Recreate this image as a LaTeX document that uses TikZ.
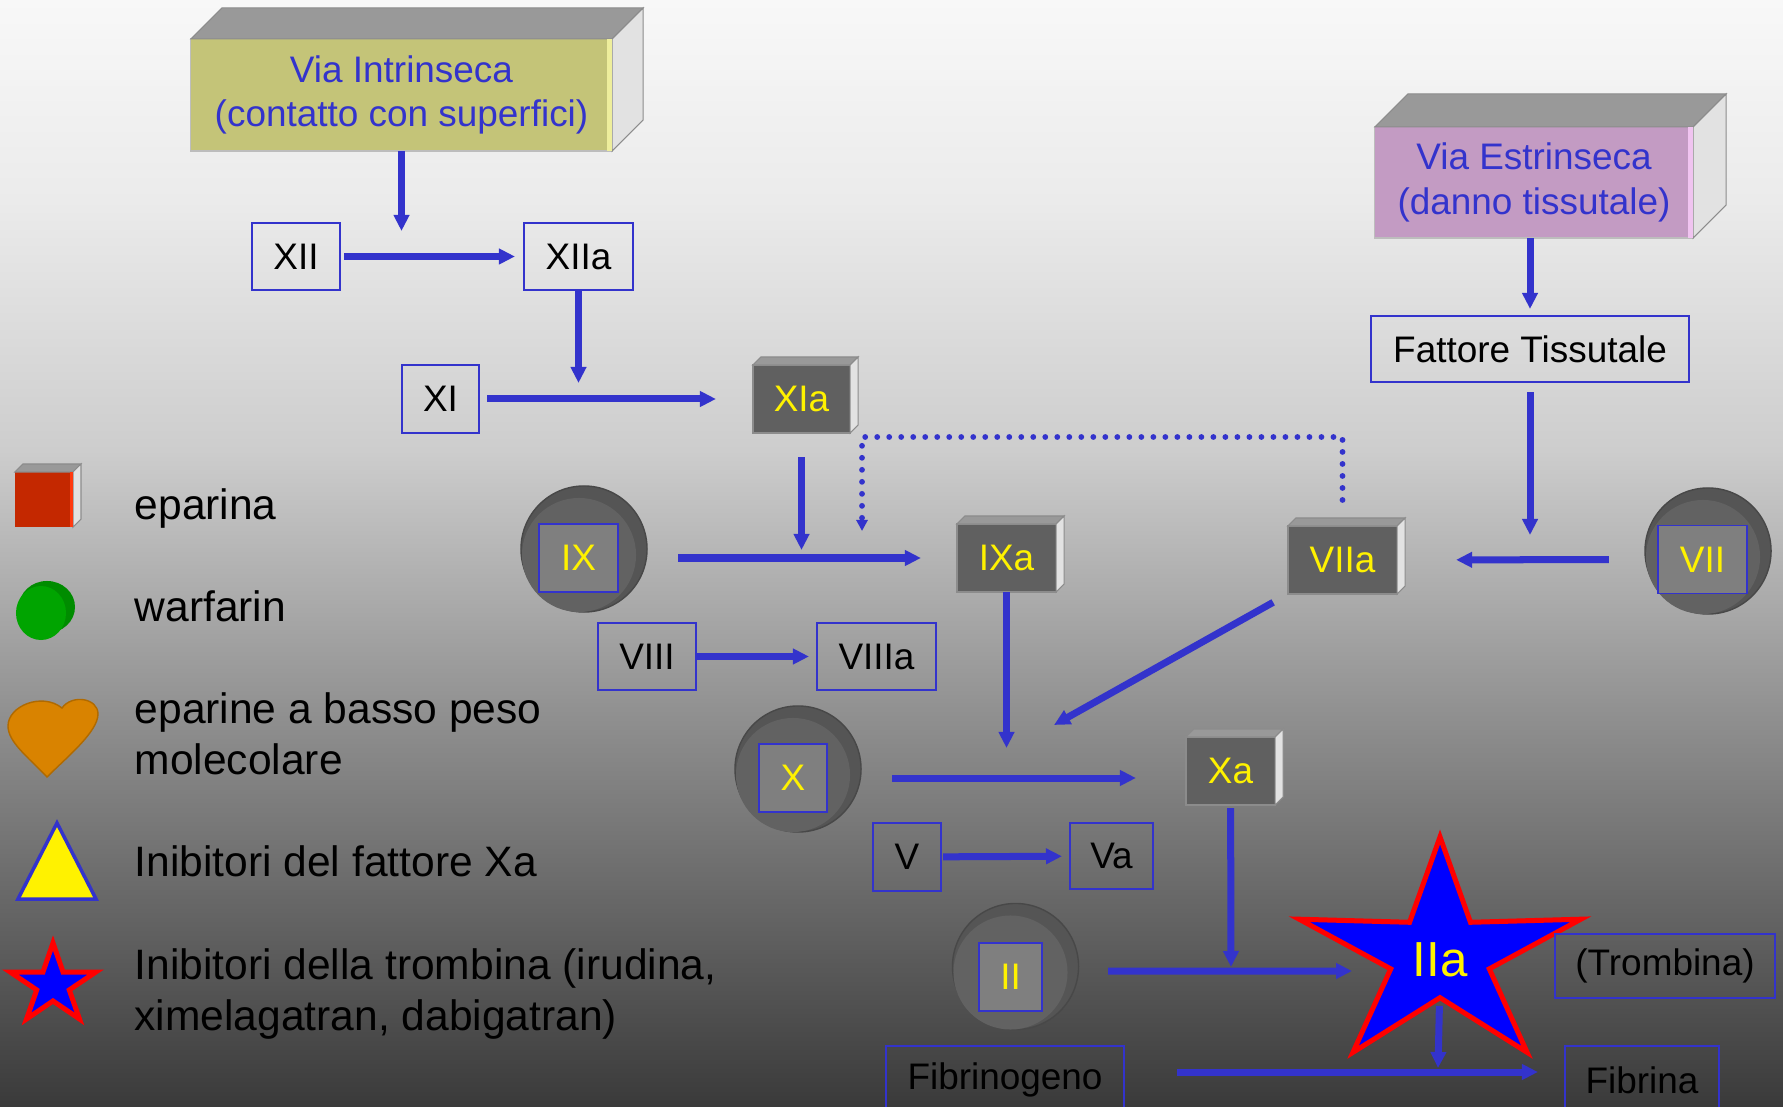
\documentclass[tikz,border=0pt]{standalone}
\usepackage{fontspec}
\setmainfont{Liberation Sans}
\usetikzlibrary{arrows.meta,positioning}

\definecolor{pathblue}{HTML}{3333CC}
\definecolor{intryellow}{HTML}{C4C478}
\definecolor{intrstrip}{HTML}{EEEE9C}
\definecolor{extrmauve}{HTML}{C39BC3}
\definecolor{extrstrip}{HTML}{F0C4F0}
\definecolor{topgray}{HTML}{999999}
\definecolor{sidegray}{HTML}{E2E2E2}
\definecolor{edgegray}{HTML}{8C8C8C}
\definecolor{edgelight}{HTML}{BDBDBD}
\definecolor{enzgray}{HTML}{606060}
\definecolor{discgray}{HTML}{555555}
\definecolor{discface}{HTML}{626262}
\definecolor{squaregray}{HTML}{7F7F7F}
\definecolor{hepred}{HTML}{C42800}
\definecolor{hepstrip}{HTML}{FF3A10}
\definecolor{warfback}{HTML}{008C00}
\definecolor{warffront}{HTML}{00A400}
\definecolor{lmwhorange}{HTML}{D98300}
\definecolor{lmwhedge}{HTML}{B06A00}
\definecolor{bgA}{HTML}{F8F8F8}
\definecolor{bgB}{HTML}{EBEBEB}
\definecolor{bgC}{HTML}{CDCDCD}
\definecolor{bgD}{HTML}{939393}
\definecolor{bgE}{HTML}{3A3A3A}

\newcommand{\factorfont}{\fontsize{10.5}{12.6}\selectfont}
\newcommand{\legendfont}{\fontsize{12.1}{14.5}\selectfont}
\newcommand{\thrombinfont}{\fontsize{14}{16}\selectfont}

% top and side faces of a box node: node, depth, top colour, side colour
\newcommand{\boxtop}[4]{%
  \filldraw[fill=#3,draw=edgegray,line width=0.3pt] (#1.north west) -- ++(#2,-#2)
    -- ([shift={(#2,-#2)}]#1.north east) -- (#1.north east) -- cycle;
  \filldraw[fill=#4,draw=edgegray,line width=0.3pt] (#1.north east)
    -- ([shift={(#2,-#2)}]#1.north east) -- ([shift={(#2,-#2)}]#1.south east)
    -- (#1.south east) -- cycle;}

\begin{document}
\begin{tikzpicture}[x=0.01cm, y=-0.01cm,
  font=\factorfont,
  factor/.style={draw=pathblue, line width=0.5pt, minimum height=0.67cm,
                 inner sep=0pt, outer sep=0pt},
  enzyme/.style={fill=enzgray, draw=edgegray, line width=0.3pt, minimum height=0.68cm,
                 inner sep=0pt, outer sep=0pt, text=yellow},
  disc/.style={circle, fill=discgray, draw=discgray!85!black, line width=0.4pt,
               minimum size=1.26cm, inner sep=0pt},
  zymogen/.style={factor, fill=squaregray, minimum height=0.68cm, text=yellow},
  pathway/.style={minimum height=1.12cm, inner sep=0pt, outer sep=0pt, text=pathblue,
                  align=center, draw=edgelight, line width=0.3pt},
  arr/.style={-{Triangle[length=0.16cm,width=0.15cm]}, line width=0.07cm, draw=pathblue},
  dotarr/.style={-{Triangle[length=0.11cm,width=0.11cm]}, line width=0.058cm, draw=pathblue,
                 dash pattern=on 0pt off 0.12cm, line cap=round},
  thrombin/.style={fill=blue, draw=red, line width=0.05cm, line join=miter},
  legend/.style={font=\legendfont, anchor=base west, align=left, inner sep=0pt},
]

%% ---- Background -------------------------------------------------------------
\useasboundingbox (0,0) rectangle (1783,1107);
\clip (0,0) rectangle (1783,1107);
\shade[top color=bgA, bottom color=bgB] (0,0) rectangle (1783,201);
\shade[top color=bgB, bottom color=bgC] (0,200) rectangle (1783,451);
\shade[top color=bgC, bottom color=bgD] (0,450) rectangle (1783,701);
\shade[top color=bgD, bottom color=bgE] (0,700) rectangle (1783,1107);

%% ---- Intrinsic pathway -------------------------------------------------------
\node[pathway, fill=intryellow, minimum width=4.21cm] (viaint) at (401.5,95)
  {Via Intrinseca\\(contatto con superfici)};
\boxtop{viaint}{31}{topgray}{sidegray}
\fill[intrstrip] ([xshift=-0.05cm]viaint.north east) rectangle (viaint.south east);

\node[factor, minimum width=0.88cm] (XII) at (296,256.5) {XII};
\node[factor, minimum width=1.09cm] (XIIa) at (578.5,256.5) {XIIa};
\node[factor, minimum width=0.77cm, minimum height=0.68cm] (XI) at (440.5,399) {XI};

\node[enzyme, minimum width=0.97cm] (XIa) at (801.5,399) {XIa};
\boxtop{XIa}{8}{topgray}{sidegray}

%% ---- Factor IX ----------------------------------------------------------------
\node[disc] (IXdisc) at (584,549) {};
\fill[discface] ([shift={(-5,6)}]IXdisc.center) circle (0.57cm);
\node[zymogen, minimum width=0.79cm] (IX) at (578.5,558) {IX};

\node[enzyme, minimum width=0.99cm] (IXa) at (1006.5,558) {IXa};
\boxtop{IXa}{8}{topgray}{sidegray}

\node[factor, minimum width=0.98cm] (VIII) at (647,656.5) {VIII};
\node[factor, minimum width=1.19cm] (VIIIa) at (876.5,656.5) {VIIIa};

%% ---- Extrinsic pathway --------------------------------------------------------
\node[pathway, fill=extrmauve, minimum width=3.18cm, minimum height=1.11cm] (viaest) at (1534,182.5)
  {Via Estrinseca\\(danno tissutale)};
\boxtop{viaest}{33}{topgray}{sidegray}
\fill[extrstrip] ([xshift=-0.05cm]viaest.north east) rectangle (viaest.south east);

\node[factor, minimum width=3.18cm, minimum height=0.66cm] (FT) at (1530,349) {Fattore Tissutale};

\node[enzyme, minimum width=1.09cm] (VIIa) at (1342.5,560) {VIIa};
\boxtop{VIIa}{8}{topgray}{sidegray}

\node[disc] (VIIdisc) at (1708,551) {};
\fill[discface] ([shift={(-5,6)}]VIIdisc.center) circle (0.57cm);
\node[zymogen, minimum width=0.89cm] (VII) at (1702.5,559.5) {VII};

%% ---- Common pathway -----------------------------------------------------------
\node[disc] (Xdisc) at (798,769) {};
\fill[discface] ([shift={(-5,6)}]Xdisc.center) circle (0.57cm);
\node[zymogen, minimum width=0.68cm] (X) at (793,778) {X};

\node[enzyme, minimum width=0.89cm] (Xa) at (1230.5,771) {Xa};
\boxtop{Xa}{8}{topgray}{sidegray}

\node[factor, minimum width=0.68cm, minimum height=0.68cm] (V) at (907,857) {V};
\node[factor, minimum width=0.83cm, minimum height=0.66cm] (Va) at (1111.5,856) {Va};

\node[disc] (IIdisc) at (1015.5,966.5) {};
\fill[discface] ([shift={(-5,6)}]IIdisc.center) circle (0.57cm);
\node[zymogen, minimum width=0.63cm] (II) at (1010.5,977) {II};

%% ---- Thrombin star
\begin{scope}[shift={(1440,956)}, x=1.48cm, y=1.19cm]
  \draw[thrombin] (90:1) -- (54:.35) -- (18:1) -- (-18:.35) -- (-54:1) -- (-90:.35)
    -- (-126:1) -- (-162:.35) -- (162:1) -- (126:.35) -- cycle;
\end{scope}
\node[font=\thrombinfont, text=yellow, inner sep=0pt] (IIa) at (1440,960) {IIa};

\node[factor, minimum width=2.2cm, minimum height=0.64cm] (trombina) at (1665,966) {(Trombina)};
\node[factor, minimum width=2.38cm, minimum height=0.68cm] (fibrinogeno) at (1005,1080) {Fibrinogeno};
\node[factor, minimum width=1.54cm, minimum height=0.68cm] (fibrina) at (1642,1080) {Fibrina};

%% ---- Arrows --------------------------------------------------------------------
\coordinate (jXII) at (401.5,231);
\coordinate (jXI) at (578.5,383);
\coordinate (jIX) at (801.5,550);
\coordinate (dotBend) at (862,437);
\coordinate (jIXdot) at (862,531);
\coordinate (jX) at (1006.5,748);
\coordinate (jXdiag) at (1054,725);
\coordinate (jVII) at (1530,535);
\coordinate (jII) at (1231,967);
\coordinate (jIIa) at (1352,971);
\coordinate (jFib) at (1438,1068);

\draw[arr] (viaint.south) -- (jXII);
\draw[arr, shorten <=0.04cm, shorten >=0.09cm] (XII) -- (XIIa);
\draw[arr] (XIIa) -- (jXI);
\draw[arr, shorten <=0.08cm, shorten >=0.37cm] (XI) -- (XIa);
\draw[arr, shorten <=0.24cm] (XIa) -- (jIX);
\draw[dotarr, shorten <=0.26cm] (VIIa.north) |- (dotBend) -- (jIXdot);

\draw[arr, shorten <=0.6cm, shorten >=0.36cm] (IX) -- (IXa);
\draw[arr, shorten <=0.01cm, shorten >=0.08cm] (VIII) -- (VIIIa);
\draw[arr] (IXa) -- (jX);

\draw[arr, shorten >=0.07cm] (viaest.south -| FT.north) -- (FT);
\draw[arr, shorten <=0.1cm] (FT) -- (jVII);
\draw[arr, shorten <=0.49cm, shorten >=0.59cm] (VII) -- (VIIa);
\draw[arr, shorten <=0.17cm] (VIIa.south west) -- (jXdiag);

\draw[arr, shorten <=0.65cm, shorten >=0.5cm] (X.east) -- (X.east -| Xa.west);
\draw[arr, shorten <=0.02cm, shorten >=0.08cm] (V) -- (Va);
\draw[arr, shorten <=0.03cm] (Xa) -- (jII);
\draw[arr, shorten <=0.66cm] ([yshift=0.06cm]II.east) -- (jIIa);
\draw[arr, shorten <=0.28cm] (IIa.south) -- (jFib);
\draw[arr, shorten <=0.53cm, shorten >=0.27cm] ([yshift=0.08cm]fibrinogeno.east)
  -- ([yshift=0.08cm]fibrinogeno.east -| fibrina.west);

%% ---- Legend ---------------------------------------------------------------------
\node[fill=hepred, minimum width=0.58cm, minimum height=0.55cm, inner sep=0pt, outer sep=0pt]
  (legHep) at (44,499.5) {};
\boxtop{legHep}{8}{topgray}{sidegray}
\fill[hepstrip] ([xshift=-0.03cm]legHep.north east) rectangle (legHep.south east);

\fill[warfback] (47,607) ellipse [x radius=0.28cm, y radius=0.26cm];
\fill[warffront] (41,613) ellipse [x radius=0.25cm, y radius=0.27cm];

\filldraw[fill=lmwhorange, draw=lmwhedge, line width=0.4pt]
  (47,777) .. controls (28,757) and (8,742) .. (8,726)
  .. controls (8,706) and (42,692) .. (62,708)
  .. controls (72,694) and (98,698) .. (98,714)
  .. controls (98,732) and (66,758) .. (47,777) -- cycle;

\filldraw[fill=yellow, draw=pathblue, line width=0.035cm] (57,823) -- (96,899) -- (18,899) -- cycle;

\begin{scope}[shift={(53,985)}, x=0.45cm, y=0.42cm]
  \draw[thrombin] (90:1) -- (54:.38) -- (18:1) -- (-18:.38) -- (-54:1) -- (-90:.38)
    -- (-126:1) -- (-162:.38) -- (162:1) -- (126:.38) -- cycle;
\end{scope}

\node[legend] (txtHep) at (134,520) {eparina};
\node[legend] (txtWarf) at (134,621) {warfarin};
\node[legend] (txtLmwh) at (134,774) {eparine a basso peso\\molecolare};
\node[legend] (txtXa) at (134,876) {Inibitori del fattore Xa};
\node[legend] (txtThr) at (134,1030) {Inibitori della trombina (irudina,\\ximelagatran, dabigatran)};

\end{tikzpicture}
\end{document}
